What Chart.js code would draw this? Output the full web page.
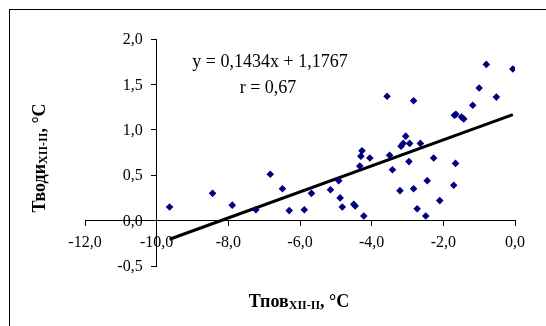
<!DOCTYPE html>
<html lang="ru">
<head>
<meta charset="UTF-8">
<title>Тводи / Тпов</title>
<script src="https://cdn.jsdelivr.net/npm/chart.js"></script>
<style>
  html, body { margin: 0; padding: 0; background: #fff; }
</style>
</head>
<body>
<canvas id="myChart" width="546" height="326"></canvas>
<script>
// data
const tpov = [-9.64, -8.44, -7.89, -7.23, -6.83, -6.49, -6.30, -5.88, -5.68, -5.15,
  -4.92, -4.88, -4.82, -4.50, -4.46, -4.22, -4.33, -4.30, -4.27, -4.05,
  -3.57, -3.50, -3.42, -3.21, -3.18, -3.12, -3.05, -2.94, -2.96, -2.83,
  -2.83, -2.73, -2.64, -2.49, -2.45, -2.27, -2.10, -1.71, -1.66, -1.69,
  -1.65, -1.49, -1.43, -1.18, -1.00, -0.80, -0.52, -0.06];
const tvodi = [0.15, 0.30, 0.17, 0.12, 0.51, 0.35, 0.11, 0.12, 0.30, 0.34,
  0.44, 0.25, 0.15, 0.18, 0.16, 0.05, 0.60, 0.71, 0.77, 0.69,
  1.37, 0.72, 0.56, 0.33, 0.82, 0.85, 0.93, 0.85, 0.65, 1.32,
  0.35, 0.13, 0.85, 0.05, 0.44, 0.69, 0.22, 0.39, 0.63, 1.16,
  1.17, 1.14, 1.12, 1.27, 1.46, 1.72, 1.36, 1.67];

const slope = 0.1434;
const intercept = 1.1767;
const rText = '0,67';

const xTickValues = [-12, -10, -8, -6, -4, -2, 0];
const yTickValues = [-0.5, 0, 0.5, 1.0, 1.5, 2.0];

function comma(v, d) { return v.toFixed(d).replace('.', ','); }

const points = tpov.map((x, i) => ({x: x, y: tvodi[i]}));
const xLo = Math.min(...tpov), xHi = Math.max(...tpov);
const trend = [{x: xLo, y: slope * xLo + intercept}, {x: xHi, y: slope * xHi + intercept}];

const serif = '"Liberation Serif"';

// draws text pieces with a subscript, centred on (cx, cy)
function drawParts(ctx, parts, cx, cy) {
  let w = 0;
  parts.forEach(p => { ctx.font = p.font; w += ctx.measureText(p.t).width; });
  let x = cx - w / 2;
  ctx.textAlign = 'left';
  ctx.textBaseline = 'middle';
  parts.forEach(p => {
    ctx.font = p.font;
    ctx.fillText(p.t, x, cy + (p.dy || 0));
    x += ctx.measureText(p.t).width;
  });
}

const decor = {
  id: 'decor',
  beforeDraw(chart) {
    const c = chart.ctx;
    c.save();
    c.fillStyle = '#fff';
    c.fillRect(0, 0, chart.width, chart.height);
    c.strokeStyle = '#000';
    c.lineWidth = 1;
    c.strokeRect(9.5, 9.5, chart.width + 10, chart.height + 10);
    c.restore();
  },
  afterDraw(chart) {
    const c = chart.ctx;
    const xs = chart.scales.x, ys = chart.scales.y;
    c.save();
    c.fillStyle = '#000';

    // y tick labels, left of the y axis (which crosses at x = -10)
    const axisX = xs.getPixelForValue(-10);
    c.font = '16px ' + serif;
    c.textAlign = 'right';
    c.textBaseline = 'middle';
    yTickValues.forEach(v => c.fillText(comma(v, 1), axisX - 14, ys.getPixelForValue(v) + 1));

    c.font = '18px ' + serif;
    c.textAlign = 'center';
    c.fillText('y = ' + comma(slope, 4) + 'x + ' + comma(intercept, 4), 270, 62);
    c.fillText('r = ' + rText, 268, 88);

    const big = 'bold 18px ' + serif;
    const small = 'bold 12px ' + serif;
    drawParts(c, [{t: 'Тпов', font: big}, {t: 'XII-II', font: small, dy: 4}, {t: ', °C', font: big}], 299, 302);

    c.translate(40, 158);
    c.rotate(-Math.PI / 2);
    drawParts(c, [{t: 'Тводи', font: big}, {t: 'XII-II', font: small, dy: 4}, {t: ', °C', font: big}], 0, 0);
    c.restore();
  }
};

new Chart(document.getElementById('myChart'), {
  type: 'scatter',
  data: {
    datasets: [{
      data: points,
      pointStyle: 'rectRot',
      pointRadius: 3.8,
      backgroundColor: '#000080',
      borderColor: '#000080',
      borderWidth: 0
    }, {
      type: 'line',
      data: trend,
      borderColor: '#000',
      borderWidth: 3,
      pointRadius: 0,
      fill: false
    }]
  },
  options: {
    responsive: false,
    animation: false,
    layout: {padding: {left: 85, right: 31, top: 39, bottom: 60}},
    plugins: {legend: {display: false}, tooltip: {enabled: false}},
    scales: {
      x: {
        type: 'linear',
        min: -12, max: 0,
        position: {y: 0},
        afterBuildTicks: s => { s.ticks = xTickValues.map(v => ({value: v})); },
        ticks: {
          color: '#000', font: {family: serif, size: 16}, padding: 8, maxRotation: 0,
          callback: v => comma(v, 1)
        },
        grid: {drawOnChartArea: false, color: '#000', tickLength: 5},
        border: {color: '#000', width: 1}
      },
      y: {
        type: 'linear',
        min: -0.5, max: 2.0,
        position: {x: -10},
        afterBuildTicks: s => { s.ticks = yTickValues.map(v => ({value: v})); },
        ticks: {display: false},
        grid: {drawOnChartArea: false, color: '#000', tickLength: 5},
        border: {color: '#000', width: 1}
      }
    }
  },
  plugins: [decor]
});
</script>
</body>
</html>
